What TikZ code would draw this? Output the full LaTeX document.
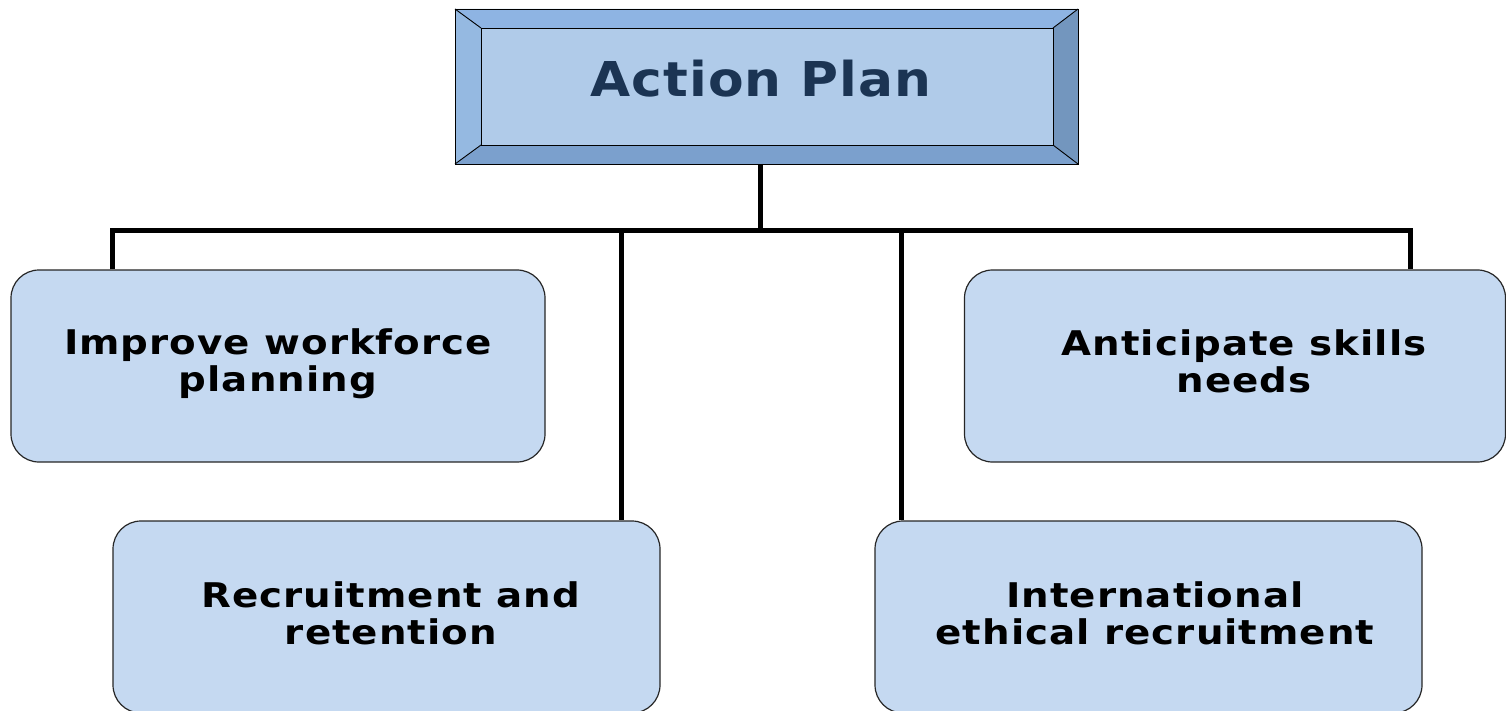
\documentclass[tikz,border=0pt]{standalone}
\usepackage{fontspec}
\setmainfont{DejaVu Sans}
\newfontfamily\boxfont[FakeStretch=1.14,LetterSpace=3]{DejaVu Sans}
\newfontfamily\titlefont[FakeStretch=1.08,LetterSpace=2]{DejaVu Sans}
\definecolor{boxblue}{HTML}{C5D9F1}
\definecolor{faceblue}{HTML}{B0CBE9}
\definecolor{bevtop}{HTML}{8EB4E3}
\definecolor{bevleft}{HTML}{95B9E1}
\definecolor{bevright}{HTML}{7396BE}
\definecolor{bevbottom}{HTML}{7BA0CD}
\definecolor{navy}{HTML}{1B3453}
\tikzset{
  box/.style={draw=black!85, fill=boxblue, rounded corners=28pt, line width=1.2pt, inner sep=0pt},
  txt/.style={font=\boxfont\bfseries\fontsize{34}{37}\selectfont, align=center, text=black},
  conn/.style={line width=5pt, draw=black},
  bev/.style={draw=black, line width=0.9pt, line join=miter}
}
\begin{document}
\begin{tikzpicture}[x=1pt,y=-1pt]
\useasboundingbox (0,0) rectangle (1506,711);
% top bevelled box
\coordinate (o1) at (455,9);
\coordinate (o2) at (1078,9);
\coordinate (o3) at (1078,164);
\coordinate (o4) at (455,164);
\coordinate (i1) at (481,28);
\coordinate (i2) at (1053,28);
\coordinate (i3) at (1053,145);
\coordinate (i4) at (481,145);
\fill[bevtop] (o1) -- (o2) -- (i2) -- (i1) -- cycle;
\fill[bevright] (o2) -- (o3) -- (i3) -- (i2) -- cycle;
\fill[bevbottom] (o3) -- (o4) -- (i4) -- (i3) -- cycle;
\fill[bevleft] (o4) -- (o1) -- (i1) -- (i4) -- cycle;
\node[bev, fill=faceblue, minimum width=572pt, minimum height=117pt, inner sep=0pt] (top) at (767,86.5) {};
\draw[bev] (o1) -- (o2) -- (o3) -- (o4) -- cycle;
\draw[bev] (o1) -- (i1) (o2) -- (i2) (o3) -- (i3) (o4) -- (i4);
\node[font=\titlefont\bfseries\fontsize{48}{50}\selectfont, text=navy] (title) at (761,79) {Action Plan};
% boxes
\node[box, minimum width=534pt, minimum height=192pt] (b1) at (278,366) {};
\node[box, minimum width=541pt, minimum height=192pt] (b2) at (1235,366) {};
\node[box, minimum width=547pt, minimum height=192pt] (b3) at (386.5,617) {};
\node[box, minimum width=547pt, minimum height=192pt] (b4) at (1148.5,617) {};
\node[txt] (t1) at (278,364) {Improve workforce\\planning};
\node[txt] (t2) at (1244,361) {Anticipate skills\\needs};
\node[txt] (t3) at (391,613) {Recruitment and\\retention};
\node[txt] (t4) at (1155,613) {International\\ethical recruitment};
% connectors
\coordinate (j) at (760,231);
\coordinate (d1) at (112,231);
\coordinate (d2) at (1410,231);
\coordinate (d3) at (621,231);
\coordinate (d4) at (901,231);
\draw[conn] (j |- o3) -- (j);
\draw[conn, line join=miter] (d1 |- b1.north) -- (d1) -- (d2) -- (d2 |- b2.north);
\draw[conn] (d3) -- (d3 |- b3.north);
\draw[conn] (d4) -- (d4 |- b4.north);
\end{tikzpicture}
\end{document}
